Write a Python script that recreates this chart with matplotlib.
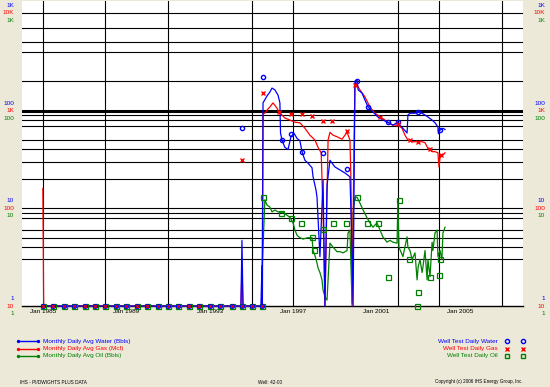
import numpy as np
import matplotlib.pyplot as plt
from matplotlib.lines import Line2D

plt.rcParams['font.family'] = ['Liberation Sans', 'DejaVu Sans']

# monthly daily averages (decimal years); zeros sit on the chart floor
water_yr = [1985.00, 1994.50, 1994.55, 1994.60, 1995.46, 1995.51, 1995.53, 1995.56, 1995.75, 1995.89,
            1995.99, 1996.13, 1996.28, 1996.37, 1996.40, 1996.47, 1996.61, 1996.76, 1996.90, 1997.04,
            1997.19, 1997.33, 1997.43, 1997.57, 1997.72, 1997.91, 1997.96, 1998.10, 1998.15, 1998.29,
            1998.44, 1998.53, 1998.63, 1998.77, 1999.01, 1999.25, 1999.49, 1999.73, 1999.83, 1999.88,
            1999.97, 2000.07, 2000.12, 2000.31, 2000.45, 2000.60, 2000.83, 2001.07, 2001.31, 2001.55,
            2001.79, 2002.03, 2002.13, 2002.47, 2002.51, 2002.61, 2002.85, 2003.00, 2003.19, 2003.33,
            2003.47, 2003.67, 2003.81, 2003.95, 2003.97, 2004.05, 2004.19, 2004.29]
water = [0, 0, 4.7, 0, 0, 2.6, 0, 120, 141, 155,
         170, 163, 144, 120, 59, 50, 42, 40, 54, 59,
         52, 49, 38, 31, 29, 26, 21, 15.4, 13, 3.2,
         19.5, 0, 17, 31, 26.5, 24.7, 23, 21, 4.0, 0,
         200, 205, 163, 151, 128, 109, 97, 86, 80, 76,
         71, 76, 71, 59, 90, 94, 94, 97, 94, 90,
         86, 80, 75, 68, 58, 63, 66, 64]

gas_yr = [1985.00, 1985.04, 1994.50, 1994.55, 1994.60, 1995.51, 1995.56, 1995.65, 1995.75, 1995.89,
          1996.04, 1996.23, 1996.32, 1996.47, 1996.61, 1996.85, 1997.09, 1997.33, 1997.57, 1997.81,
          1998.05, 1998.20, 1998.35, 1998.44, 1998.53, 1998.68, 1998.77, 1998.92, 1999.11, 1999.35,
          1999.59, 1999.73, 1999.78, 1999.83, 1999.93, 1999.97, 2000.07, 2000.21, 2000.45, 2000.69,
          2000.93, 2001.27, 2001.55, 2001.79, 2002.03, 2002.23, 2002.37, 2002.51, 2002.71, 2002.95,
          2003.19, 2003.33, 2003.47, 2003.67, 2003.81, 2003.95, 2004.00, 2004.05, 2004.19, 2004.29]
gas = [160, 0, 0, 25, 0, 0, 940, 940, 1010, 1090,
       1200, 1060, 970, 900, 840, 800, 760, 750, 660, 560,
       500, 420, 370, 90, 0, 500, 600, 560, 540, 510,
       600, 500, 185, 0, 540, 1920, 1830, 1630, 1380, 1090,
       940, 840, 760, 710, 710, 660, 560, 500, 480, 480,
       480, 470, 410, 380, 380, 370, 265, 330, 350, 370]

oil_yr = [1985.00, 1995.51, 1995.53, 1995.65, 1995.75, 1995.89, 1995.99, 1996.13, 1996.28, 1996.42,
          1996.56, 1996.71, 1996.85, 1997.00, 1997.09, 1997.19, 1997.33, 1997.48, 1997.72, 1997.91,
          1997.96, 1998.05, 1998.15, 1998.20, 1998.29, 1998.39, 1998.44, 1998.53, 1998.63, 1998.77,
          1998.92, 1999.11, 1999.25, 1999.40, 1999.59, 1999.64, 1999.73, 1999.83, 1999.88, 1999.97,
          2000.07, 2000.21, 2000.36, 2000.55, 2000.69, 2000.83, 2001.03, 2001.17, 2001.31, 2001.51,
          2001.65, 2001.79, 2001.99, 2002.03, 2002.08, 2002.27, 2002.47, 2002.51, 2002.61, 2002.71,
          2002.85, 2002.95, 2003.00, 2003.09, 2003.19, 2003.23, 2003.33, 2003.43, 2003.47, 2003.57,
          2003.67, 2003.71, 2003.81, 2003.91, 2003.95, 2004.05, 2004.14, 2004.19, 2004.29]
oil = [0, 0, 2.75, 12.2, 10.8, 10.3, 9.2, 9.6, 9.2, 9.0,
       9.0, 8.5, 8.1, 7.1, 6.0, 5.3, 5.0, 4.85, 5.0, 5.0,
       3.7, 3.3, 2.75, 2.45, 2.2, 1.85, 1.46, 1.24, 1.15, 4.4,
       4.0, 3.6, 3.6, 3.5, 3.7, 5.6, 6.0, 1.07, 9.0, 13,
       13, 11.3, 9.6, 8.0, 7.1, 6.4, 7.1, 6.0, 5.1, 4.5,
       4.7, 4.5, 4.4, 12.2, 4.0, 3.2, 5.1, 4.0, 3.7, 3.0,
       3.5, 1.85, 2.5, 3.0, 2.2, 2.5, 3.7, 1.85, 3.0, 2.0,
       4.5, 3.7, 5.6, 6.0, 3.2, 3.7, 3.0, 5.6, 6.4]

# well tests
zero_test_yr = [1985.0, 1985.5, 1986.0, 1986.5, 1987.0, 1987.5, 1988.0, 1988.5, 1989.0, 1989.5, 1990.0,
                1990.5, 1991.0, 1991.5, 1992.0, 1992.5, 1993.0, 1993.5, 1994.05, 1994.55, 1995.03, 1995.5]
wt_water_yr = [1994.55, 1995.56, 1996.47, 1996.90, 1997.43, 1998.44, 1999.59, 2000.07, 2000.60,
               2001.55, 2002.03, 2003.00, 2004.05]
wt_water = [66, 220, 50, 58, 38, 37, 25, 200, 109, 76, 76, 97, 63]
wt_gas_yr = [1994.55, 1995.56, 1996.32, 1996.90, 1997.43, 1997.91, 1998.44, 1998.87, 1999.59,
             1999.97, 2001.17, 2002.03, 2002.61, 2003.00, 2003.57, 2004.10]
wt_gas = [310, 1510, 970, 920, 920, 880, 780, 780, 620, 1830, 860, 730, 500, 480, 400, 350]
wt_oil_yr = [1995.56, 1996.42, 1996.90, 1997.38, 1997.91, 1998.00, 1998.44, 1998.92, 1999.54,
             2000.07, 2000.55, 2001.07, 2001.55, 2002.08, 2002.56, 2002.95, 2003.00, 2003.57,
             2004.00, 2004.05]
wt_oil = [13, 9.0, 8.0, 7.1, 5.1, 3.7, 6.2, 7.1, 7.1, 13, 7.1, 7.1, 2.0, 12.2, 3.0, 0, 1.39, 2.0, 2.1, 3.0]

hgrid = [3, 4, 5, 6, 8, 9, 10, 20, 30, 40, 50, 70, 80, 90, 200, 400, 500, 700, 1000]
vgrid = [1985.0, 1988.0, 1991.0, 1995.03, 1997.0, 2002.03, 2004.0, 2007.02]
xtick_yr = [1985, 1989, 1993, 1997, 2001, 2005]
xtick_lbl = ['Jan 1985', 'Jan 1989', 'Jan 1993', 'Jan 1997', 'Jan 2001', 'Jan 2005']
decades = [1, 10, 100, 1000]
water_lbl = ['1', '10', '100', '1K']
gas_lbl = ['10', '100', '1K', '10K']
oil_lbl = ['1', '10', '100', '1K']

BLUE, RED, GREEN = '#0000FF', '#FF0000', '#008000'
FLOOR = 1.0
FS = 4.6

fig = plt.figure(figsize=(5.5, 3.87), dpi=100, facecolor='#ECE9D8')
ax = fig.add_axes([22 / 550, 1 - 306 / 387, (523 - 22) / 550, 305 / 387])
ax.set_facecolor('white')
ax.set_yscale('log')
ax.set_ylim(1, 1324)
ax.set_xlim(1984.0, 2008.03)
for s in ['left', 'right', 'top']:
    ax.spines[s].set_visible(False)
ax.spines['bottom'].set_linewidth(1.0)

for v in hgrid:
    ax.axhline(v, color='black', lw=0.8, zorder=1)
ax.axhline(100, color='black', lw=2.2, zorder=1)
for x in vgrid:
    ax.axvline(x, color='black', lw=0.8, zorder=1)

def fl(a, scale=1.0):
    return np.maximum(np.array(a, dtype=float) / scale, FLOOR)

ax.plot(oil_yr, fl(oil), color=GREEN, lw=0.9, zorder=3, clip_on=False)
ax.plot(gas_yr, fl(gas, 10), color=RED, lw=0.9, zorder=4, clip_on=False)
ax.plot(water_yr, fl(water), color=BLUE, lw=0.9, zorder=5, clip_on=False)

z = np.ones(len(zero_test_yr))
ax.plot(zero_test_yr, z, 's', ms=3.6, mfc='none', mec=GREEN, mew=0.9, zorder=6, clip_on=False)
ax.plot(zero_test_yr, z, 'o', ms=2.6, mfc=BLUE, mec=BLUE, zorder=7, clip_on=False)
ax.plot(zero_test_yr, z, 'x', ms=1.8, mec=RED, mew=0.8, zorder=8, clip_on=False)

ax.plot(wt_oil_yr, fl(wt_oil), 's', ms=3.6, mfc='none', mec=GREEN, mew=0.9, zorder=6, clip_on=False)
ax.plot(wt_water_yr, fl(wt_water), 'o', ms=3.0, mfc='none', mec=BLUE, mew=1.0, zorder=7, clip_on=False)
ax.plot(wt_gas_yr, fl(wt_gas, 10), 'x', ms=3.2, mec=RED, mew=1.0, zorder=8, clip_on=False)

ax.set_yticks([])
ax.minorticks_off()
ax.set_xticks(xtick_yr)
ax.set_xticklabels(xtick_lbl, fontsize=FS)
ax.tick_params(axis='x', length=0, pad=2)

# stacked axis labels on both sides
for xf, ha in [(14 / 550, 'right'), (545 / 550, 'right')]:
    for d, wl, gl, ol in zip(decades, water_lbl, gas_lbl, oil_lbl):
        for lbl, col, dy in [(wl, BLUE, 7.5), (gl, RED, 0), (ol, GREEN, -7.5)]:
            ax.annotate(lbl, xy=(xf, d), xycoords=('figure fraction', 'data'),
                        xytext=(0, dy), textcoords='offset pixels', ha=ha, va='center',
                        fontsize=FS, color=col, annotation_clip=False)

# legend, left
leg_left = [('Monthly Daily Avg Water (Bbls)', BLUE), ('Monthly Daily Avg Gas (Mcf)', RED),
            ('Monthly Daily Avg Oil (Bbls)', GREEN)]
for i, (lbl, col) in enumerate(leg_left):
    y = 1 - (341 + 7.5 * i) / 387
    fig.add_artist(Line2D([18 / 550, 38 / 550], [y, y], transform=fig.transFigure, color=col,
                          lw=1.0, marker='o', ms=1.4))
    fig.text(43 / 550, y, lbl, color=col, fontsize=FS, va='center', ha='left')

# legend, right
leg_right = [('Well Test Daily Water', BLUE, 'o'), ('Well Test Daily Gas', RED, 'x'),
             ('Well Test Daily Oil', GREEN, 's')]
for i, (lbl, col, m) in enumerate(leg_right):
    y = 1 - (341 + 7.5 * i) / 387
    fig.text(498 / 550, y, lbl, color=col, fontsize=FS, va='center', ha='right')
    for xm in [507 / 550, 523 / 550]:
        fig.add_artist(Line2D([xm], [y], transform=fig.transFigure, marker=m, ms=3.0,
                              mfc='none', mec=col, mew=1.0, ls='none'))

fig.text(20 / 550, 5 / 387, 'IHS - PI/DWIGHTS PLUS DATA', fontsize=3.4, ha='left', va='center')
fig.text(270 / 550, 5 / 387, 'Well: 42-00', fontsize=3.4, ha='center', va='center')
fig.text(523 / 550, 5 / 387, 'Copyright (c) 2006 IHS Energy Group, Inc.', fontsize=3.3, ha='right', va='center')

fig.savefig('out.png', dpi=100, facecolor=fig.get_facecolor())
